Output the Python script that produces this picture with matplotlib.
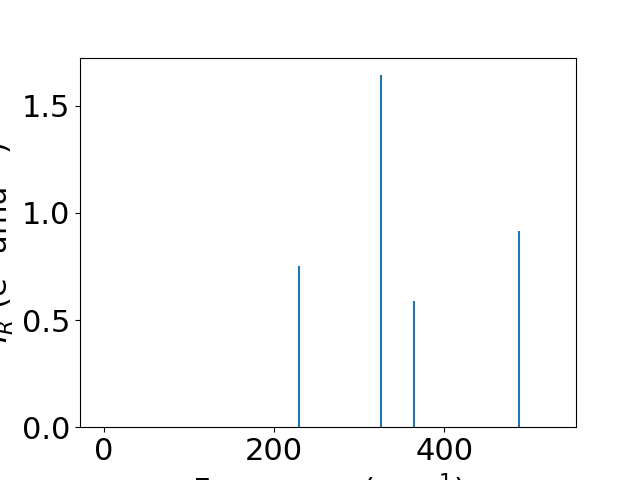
import matplotlib
matplotlib.use("Agg")
import matplotlib.pyplot as plt

freqs = [229, 326, 364, 487]
intensities = [0.752, 1.642, 0.589, 0.916]

plt.rcParams['font.size'] = 22
fig, ax = plt.subplots(figsize=(6.4, 4.8), dpi=100)
ax.vlines(freqs, 0, intensities, color='#1f77b4', linewidth=1.5)
ax.set_xlim(-27.6, 554.3)
ax.set_ylim(0, max(intensities) * 1.05)
ax.set_xticks([0, 200, 400])
ax.set_yticks([0.0, 0.5, 1.0, 1.5])
ax.set_xlabel('Frequency (cm$^{-1}$)')
ax.set_ylabel('$I_R$ (e$^2$ amu$^{-1}$)')
fig.savefig('out.png', dpi=100)
